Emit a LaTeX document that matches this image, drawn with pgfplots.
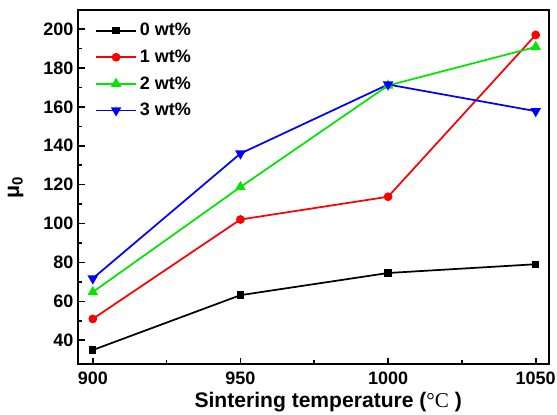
\documentclass[border=0pt]{standalone}
\usepackage{fontspec}
\setmainfont{Liberation Sans}
\newfontfamily\serifnum{Liberation Serif}
\usepackage{pgfplots}
\pgfplotsset{compat=1.18}

\definecolor{cBlack}{RGB}{0,0,0}
\definecolor{cRed}{RGB}{255,0,0}
\definecolor{cGreen}{RGB}{0,230,0}
\definecolor{cBlue}{RGB}{0,0,255}

\begin{document}
\begin{tikzpicture}
\begin{axis}[
  scale only axis,
  width=353pt, height=265.5pt,
  xmin=895, xmax=1054.5,
  ymin=27.7, ymax=209.8,
  xtick={900,950,1000,1050},
  ytick={40,60,...,200},
  minor x tick num=1,
  minor y tick num=1,
  tick align=inside,
  xtick pos=bottom, ytick pos=left,
  major tick length=5pt,
  minor tick length=3pt,
  axis line style={line width=1.8pt},
  every tick/.style={line width=1.2pt, black},
  /pgf/number format/assume math mode=true,
  /pgf/number format/1000 sep={},
  tick label style={font=\fontsize{13.5}{15}\selectfont\bfseries},
  xticklabel style={yshift=-2pt},
  xlabel={\fontsize{15.8}{18}\selectfont\bfseries Sintering temperature ({\serifnum\mdseries °C} )},
  ylabel={\fontsize{16}{18}\selectfont\bfseries μ\textsubscript{0}},
  xlabel style={yshift=1pt, xshift=11pt},
  ylabel style={yshift=8pt},
  legend style={draw=none, fill=none, at={(0.028,0.978)}, anchor=north west,
    font=\fontsize{13.5}{15}\selectfont\bfseries, row sep=5pt,
    cells={anchor=west}},
  legend image code/.code={
    \draw[mark repeat=2, mark phase=2, #1] plot coordinates {(0cm,0cm) (0.52cm,0cm) (1.05cm,0cm)};
  },
]
\addplot[cBlack, line width=1.3pt, mark=square*, mark size=2.1pt]
  coordinates {(900,35) (950,63.2) (1000,74.6) (1050,79.1)};
\addlegendentry{0 wt\%}
\addplot[cRed, line width=1.3pt, mark=*, mark size=2.6pt]
  coordinates {(900,51) (950,102.1) (1000,113.8) (1050,197)};
\addlegendentry{1 wt\%}
\addplot[cGreen, line width=1.3pt, mark=triangle*, mark size=3.3pt]
  coordinates {(900,64.8) (950,118.8) (1000,171) (1050,190.8)};
\addlegendentry{2 wt\%}
\addplot[cBlue, line width=1.3pt, mark=triangle*, mark size=3.3pt, mark options={rotate=180}]
  coordinates {(900,71.8) (950,136) (1000,171.5) (1050,157.8)};
\addlegendentry{3 wt\%}
\end{axis}
\pgfresetboundingbox
\path (current axis.south west) ++(-58.5pt,-38pt) rectangle ([xshift=6pt,yshift=7.5pt]current axis.north east);
\end{tikzpicture}
\end{document}
